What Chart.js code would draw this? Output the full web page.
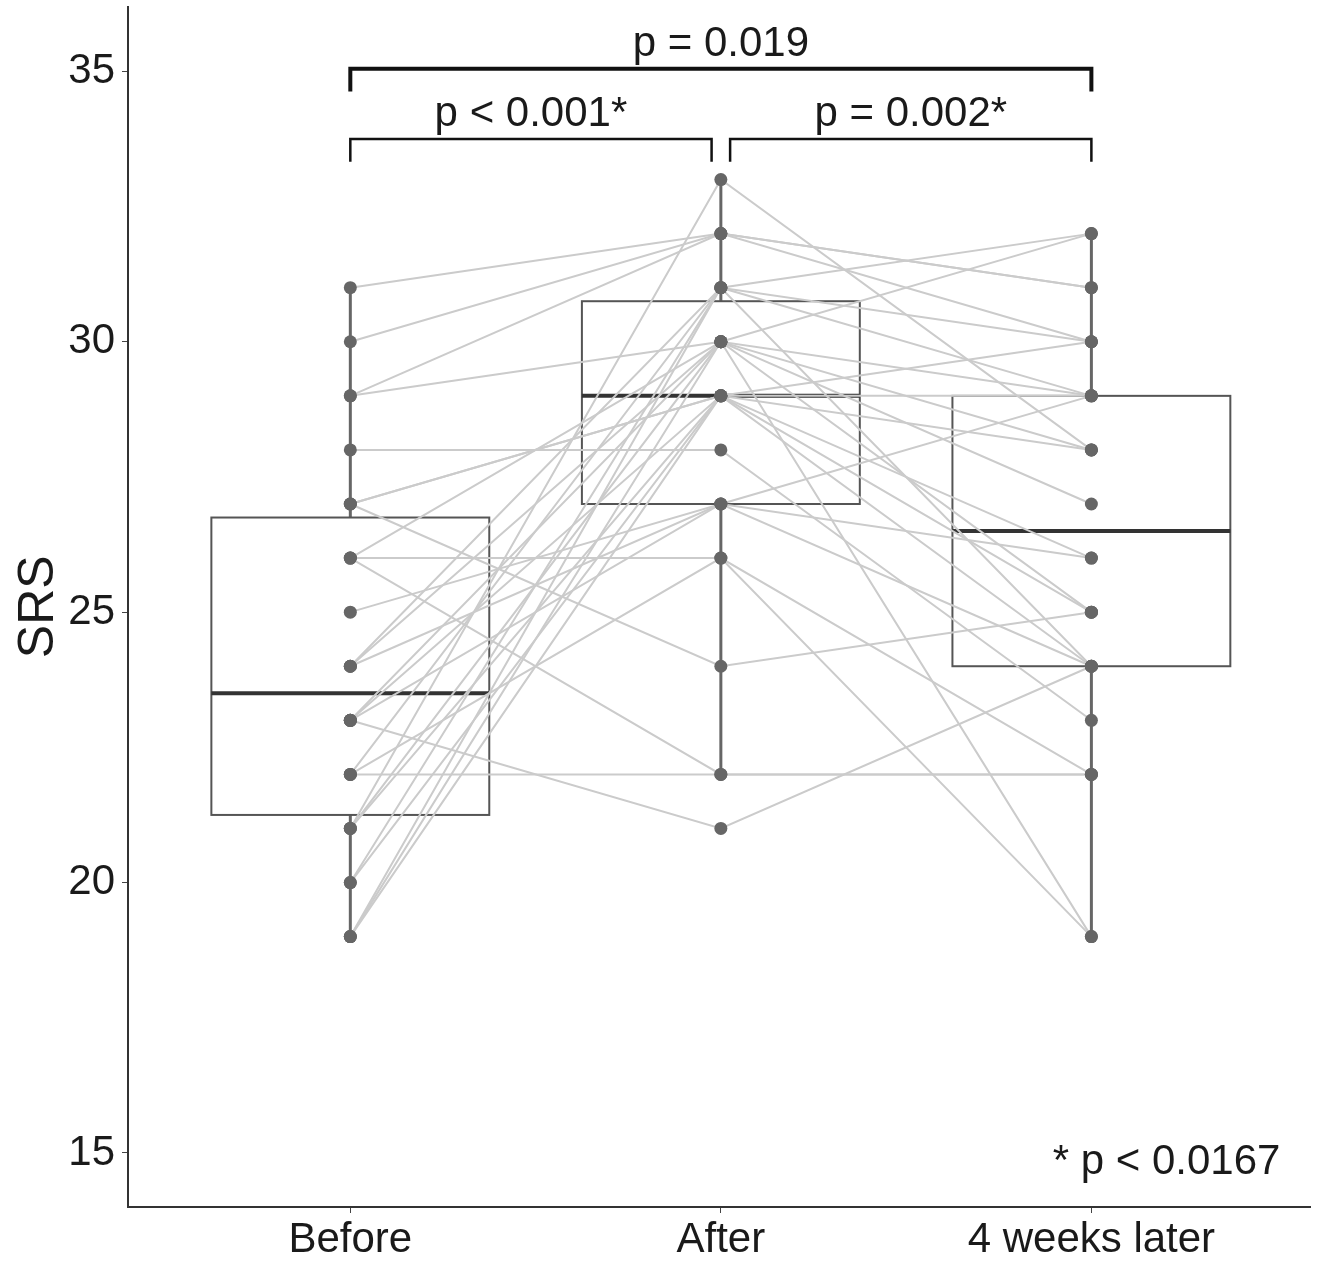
<!DOCTYPE html>
<html>
<head>
<meta charset="utf-8">
<title>SRS</title>
<script src="https://cdn.jsdelivr.net/npm/chart.js@4.4.1/dist/chart.umd.min.js"></script>
<style>
  body { margin: 0; background: #fff; }
  #wrap { width: 1321px; height: 1262px; position: relative; }
</style>
</head>
<body>
<div id="wrap"><canvas id="srsChart"></canvas></div>
<script>
// Groups on the x axis
const categories = ['Before', 'After', '4 weeks later'];

// SRS score per participant (same index = same person)
const before = [31, 30, 29, 29, 28, 27, 27, 27, 26, 26, 26, 25, 24, 24, 24, 23, 23, 23, 23, 22, 22, 22, 21, 21, 21, 20, 20, 19, 19, 19];
const after  = [32, 32, 32, 30, 28, 29, 24, 29, 26, 22, 30, 27, 27, 31, 30, 21, 27, 30, 29, 22, 26, 31, 33, 30, 29, 31, 29, 29, 31, 30];
const later  = [31, 30, 31, 32, 23, 29, 25, 30, 22, 22, 27, 24, 26, 30, 25, 24, 29, 28, 26, 22, 19, 24, 28, 19, 25, 29, 24, 28, 32, 29];

const yTicks = [15, 20, 25, 30, 35];

// Pairwise comparisons: [from group, to group, label]
const comparisons = [
    [0, 1, 'p < 0.001*'],
    [1, 2, 'p = 0.002*'],
    [0, 2, 'p = 0.019']
];
const footnote = '* p < 0.0167';

const FONT = "'Liberation Sans', Arial, sans-serif";
const groups = [before, after, later];

// Quantile like R type 7 (ggplot default)
function quantile(values, p) {
    const s = [...values].sort((a, b) => a - b);
    const h = (s.length - 1) * p;
    const lo = Math.floor(h);
    const next = lo + 1 < s.length ? s[lo + 1] : s[lo];
    return s[lo] + (h - lo) * (next - s[lo]);
}

function boxStats(values) {
    const q1 = quantile(values, 0.25);
    const med = quantile(values, 0.5);
    const q3 = quantile(values, 0.75);
    const iqr = q3 - q1;
    const inside = values.filter(v => v >= q1 - 1.5 * iqr && v <= q3 + 1.5 * iqr);
    return { q1, med, q3, lo: Math.min(...inside), hi: Math.max(...inside) };
}

const stats = groups.map(boxStats);

// Boxes and whiskers, drawn under the lines
const boxPlugin = {
    id: 'boxes',
    beforeDatasetsDraw(chart) {
        const { ctx, scales: { x, y } } = chart;
        const half = 0.375;
        ctx.save();
        stats.forEach((s, i) => {
            const cx = x.getPixelForValue(i);
            const left = x.getPixelForValue(i - half);
            const right = x.getPixelForValue(i + half);
            const top = y.getPixelForValue(s.q3);
            const bottom = y.getPixelForValue(s.q1);

            ctx.strokeStyle = '#666';
            ctx.lineWidth = 3;
            ctx.beginPath();
            ctx.moveTo(cx, y.getPixelForValue(s.hi));
            ctx.lineTo(cx, top);
            ctx.moveTo(cx, bottom);
            ctx.lineTo(cx, y.getPixelForValue(s.lo));
            ctx.stroke();

            ctx.strokeStyle = '#555';
            ctx.lineWidth = 2;
            ctx.strokeRect(left, top, right - left, bottom - top);

            ctx.strokeStyle = '#333';
            ctx.lineWidth = 4;
            ctx.beginPath();
            ctx.moveTo(left, y.getPixelForValue(s.med));
            ctx.lineTo(right, y.getPixelForValue(s.med));
            ctx.stroke();
        });
        ctx.restore();
    }
};

// Significance brackets and footnote
const annotationPlugin = {
    id: 'brackets',
    afterDatasetsDraw(chart) {
        const { ctx, scales: { x, y } } = chart;
        ctx.save();
        ctx.strokeStyle = '#111';
        ctx.fillStyle = '#1a1a1a';
        ctx.font = '42px ' + FONT;
        ctx.textAlign = 'center';
        ctx.textBaseline = 'middle';

        comparisons.forEach(([a, b, label]) => {
            const wide = b - a > 1;
            const level = wide ? 35.05 : 33.75;
            const drop = 0.42;
            const x1 = x.getPixelForValue(a === 1 ? a + 0.025 : a);
            const x2 = x.getPixelForValue(b === 1 ? b - 0.025 : b);
            ctx.lineWidth = wide ? 4 : 2.5;
            ctx.beginPath();
            ctx.moveTo(x1, y.getPixelForValue(level - drop));
            ctx.lineTo(x1, y.getPixelForValue(level));
            ctx.lineTo(x2, y.getPixelForValue(level));
            ctx.lineTo(x2, y.getPixelForValue(level - drop));
            ctx.stroke();
            ctx.fillText(label, (x1 + x2) / 2, y.getPixelForValue(level + 0.45));
        });

        ctx.textAlign = 'right';
        ctx.fillText(footnote, x.getPixelForValue(2.51), y.getPixelForValue(14.82));
        ctx.restore();
    }
};

// One line per participant
const lineSets = before.map((b, i) => ({
    data: [{ x: 0, y: b }, { x: 1, y: after[i] }, { x: 2, y: later[i] }],
    showLine: true,
    borderColor: '#cbcbcb',
    borderWidth: 2,
    pointRadius: 0,
    order: 2
}));

// Dots for each time point
const pointSets = groups.map((g, i) => ({
    data: g.map(v => ({ x: i, y: v })),
    showLine: false,
    pointRadius: 6.5,
    pointBackgroundColor: '#666',
    pointBorderWidth: 0,
    order: 1
}));

const ctx = document.getElementById('srsChart').getContext('2d');
const srsChart = new Chart(ctx, {
    type: 'scatter',
    data: { datasets: [...pointSets, ...lineSets] },
    options: {
        responsive: true,
        maintainAspectRatio: false,
        animation: false,
        layout: { padding: { top: 5, right: 11, left: 0, bottom: 0 } },
        plugins: {
            legend: { display: false },
            tooltip: { enabled: false }
        },
        scales: {
            x: {
                type: 'linear',
                min: -0.6,
                max: 2.59,
                afterBuildTicks: s => { s.ticks = categories.map((c, i) => ({ value: i })); },
                afterFit: s => {
                    s.height = 55;
                    s.paddingLeft = 0;
                    s.paddingRight = 0;
                },
                ticks: {
                    callback: v => categories[v],
                    font: { family: FONT, size: 42 },
                    color: '#1a1a1a',
                    padding: 2,
                    maxRotation: 0,
                    autoSkip: false
                },
                grid: { drawOnChartArea: false, drawTicks: true, tickLength: 6, color: '#444' },
                border: { display: true, color: '#333', width: 2 }
            },
            y: {
                min: 14,
                max: 36.2,
                afterBuildTicks: s => { s.ticks = yTicks.map(v => ({ value: v })); },
                afterFit: s => {
                    s.width = 128;
                    s.paddingTop = 0;
                    s.paddingBottom = 0;
                },
                ticks: {
                    font: { family: FONT, size: 42 },
                    color: '#1a1a1a',
                    padding: 7
                },
                title: {
                    display: true,
                    text: 'SRS',
                    font: { family: FONT, size: 50 },
                    color: '#1a1a1a',
                    padding: { top: 9, bottom: 0 }
                },
                grid: { drawOnChartArea: false, drawTicks: true, tickLength: 6, color: '#444' },
                border: { display: true, color: '#333', width: 2 }
            }
        }
    },
    plugins: [boxPlugin, annotationPlugin]
});
</script>
</body>
</html>
